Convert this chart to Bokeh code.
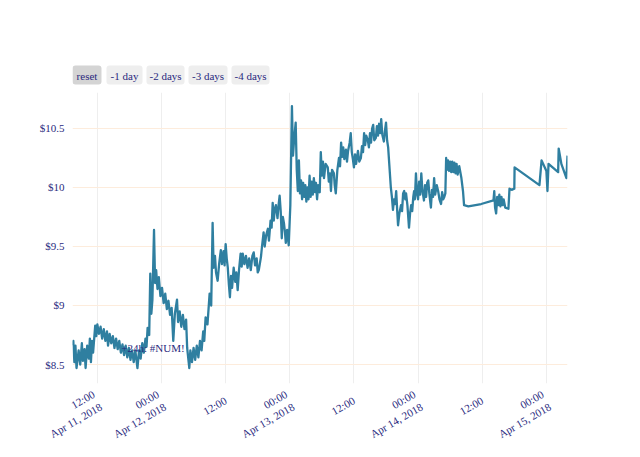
import math
import pandas as pd
from bokeh.plotting import figure
from bokeh.layouts import column
from bokeh.models import ColumnDataSource, FixedTicker, Label, Range1d, BoxAnnotation
from bokeh.core.properties import value
from bokeh.embed import file_html
from bokeh.resources import INLINE

# ---------------- data ----------------
start = "2018-04-11 00:00"

hours = [
    7.35, 7.5, 7.7, 7.9, 8.1, 8.5, 8.8, 9.1, 9.3, 9.6, 9.8, 10.1, 10.4, 10.6, 10.8, 11.0, 11.2, 11.6,
    11.8, 12.0, 12.3, 12.6, 12.9, 13.2, 13.5, 13.8, 14.0, 14.3, 14.6, 14.9, 15.2, 15.5, 15.8, 16.1,
    16.4, 16.7, 17.0, 17.3, 17.6, 17.9, 18.2, 18.5, 18.8, 19.1, 19.5, 19.8, 20.1, 20.4, 20.7, 21.0,
    21.2, 21.4, 21.7,
    21.9, 22.1, 22.3, 22.6, 22.8, 23.0, 23.25, 23.5, 23.8, 24.1, 24.4, 24.7, 25.0, 25.3, 25.6, 25.9,
    26.2, 26.5, 26.9, 27.1, 27.4, 27.7, 28.0, 28.3, 28.6, 28.8, 29.2, 29.4, 29.7, 30.0, 30.3, 30.6,
    30.9, 31.2, 31.5, 31.8, 32.0, 32.25, 32.6,
    33.0, 33.3, 33.56, 33.75, 34.0, 34.2, 34.5, 34.8, 35.1, 35.3, 35.6, 35.8, 36.0, 36.2, 36.4, 36.6,
    36.8, 37.0, 37.2, 37.5, 37.8, 38.0, 38.25, 38.5, 38.8, 39.0, 39.2, 39.5, 39.8, 40.1, 40.4, 40.7,
    41.0, 41.25, 41.5, 41.8, 42.0, 42.2, 42.6, 42.8, 43.1, 43.3, 43.6, 43.9, 44.1, 44.4, 44.6, 44.8,
    45.0, 45.2, 45.4, 45.7, 45.9, 46.1, 46.3, 46.5, 46.7, 46.9, 47.1, 47.25, 47.5, 47.8, 48.1, 48.4,
    48.6, 48.8, 49.1, 49.3, 49.5, 49.7, 49.9,
    50.1, 50.3, 50.5, 50.7, 50.9, 51.1, 51.3, 51.5, 51.7, 51.9, 52.1, 52.3, 52.5, 52.7, 52.9, 53.1,
    53.3, 53.6, 53.8, 54.0, 54.2, 54.4, 54.7, 55.1, 55.3, 55.5, 55.7, 55.9, 56.25, 56.4, 56.6, 56.9,
    57.2, 57.4, 57.6, 57.8, 58.0, 58.2, 58.5, 58.7, 58.9, 59.2, 59.4, 59.6, 59.8, 60.0, 60.2, 60.4,
    60.75, 61.0, 61.3, 61.5, 61.7, 61.9, 62.1, 62.3, 62.6, 62.8, 63.0, 63.2, 63.4, 63.6, 63.8, 64.1,
    64.3, 64.5, 64.7, 64.9, 65.1, 65.3, 65.6, 65.8, 66.0, 66.2, 66.4,
    66.9, 67.1, 67.3, 67.5, 67.7, 67.9, 68.1, 68.25, 68.5, 68.8, 69.0, 69.2, 69.4, 69.6, 69.75, 70.0,
    70.3, 70.5, 70.7, 70.9, 71.1, 71.25, 71.4, 71.6, 71.8, 72.0, 72.2, 72.4, 72.6, 72.8, 73.1, 73.3,
    73.5, 73.7, 73.9, 74.1, 74.4, 74.6, 74.8, 75.0, 75.2, 75.5, 75.75, 76.0, 76.3, 76.5, 76.7, 76.9,
    77.1, 77.25, 77.4, 77.6, 77.8, 78.0, 78.2, 78.4, 78.6, 78.8, 79.0, 79.2, 79.4, 79.7, 80.1, 80.4,
    80.6,
    81.4, 83.8, 86.1, 86.25, 86.4, 86.6, 86.8, 87.0, 87.2, 87.4, 87.6, 87.8, 88.0, 88.3, 88.9, 89.1,
    89.5, 90.0, 90.05, 94.7, 95.1, 96.0, 96.2, 96.4, 98.2, 98.3, 98.8, 99.75, 99.95,
]

price = [
    8.66, 8.70, 8.52, 8.66, 8.47, 8.62, 8.50, 8.68, 8.53, 8.63, 8.47, 8.66, 8.55, 8.72, 8.52, 8.70, 8.60, 8.83,
    8.74, 8.84, 8.76, 8.82, 8.72, 8.80, 8.70, 8.78, 8.66, 8.76, 8.68, 8.74, 8.64, 8.72, 8.63, 8.70,
    8.60, 8.67, 8.58, 8.66, 8.56, 8.64, 8.54, 8.62, 8.52, 8.62, 8.47, 8.62, 8.55, 8.68, 8.60, 8.72,
    8.65, 8.81, 8.75,
    9.27, 8.93, 9.05, 9.64, 9.19, 9.30, 9.14, 9.24, 9.08, 9.15, 9.02, 9.10, 8.97, 9.04, 8.92, 8.98,
    8.70, 8.93, 9.05, 8.86, 8.95, 8.82, 8.92, 8.80, 8.88, 8.64, 8.47, 8.62, 8.52, 8.64, 8.54, 8.66,
    8.56, 8.70, 8.62, 8.78, 8.70, 8.90, 8.84,
    9.10, 9.00, 9.70, 9.32, 9.42, 9.28, 9.21, 9.36, 9.47, 9.35, 9.46, 9.34, 9.52, 9.40, 9.32, 9.18,
    9.07, 9.25, 9.15, 9.32, 9.20, 9.28, 9.13, 9.30, 9.44, 9.33, 9.44, 9.35, 9.42, 9.32, 9.40, 9.30,
    9.42, 9.45, 9.34, 9.40, 9.28, 9.30, 9.41, 9.50, 9.62, 9.50, 9.60, 9.65, 9.55, 9.72, 9.66, 9.87,
    9.72, 9.82, 9.85, 9.74, 9.85, 9.93, 9.80, 9.57, 9.75, 9.70, 9.62, 9.53, 9.64, 9.51, 9.85, 10.69,
    10.27, 10.40, 10.55, 10.15, 9.97, 10.23, 9.95,
    10.06, 9.90, 10.04, 9.92, 10.02, 9.88, 10.00, 9.90, 10.10, 9.92, 10.05, 9.94, 10.08, 9.96, 10.04, 9.90,
    10.02, 9.96, 10.30, 10.10, 10.22, 10.08, 10.20, 10.17, 10.05, 10.12, 9.97, 10.15, 10.12, 10.02, 9.95, 10.15,
    10.25, 10.18, 10.38, 10.26, 10.34, 10.24, 10.32, 10.22, 10.31, 10.38, 10.46, 10.30, 10.24, 10.17, 10.28, 10.20,
    10.31, 10.22, 10.25, 10.35, 10.30, 10.46, 10.36, 10.44, 10.40, 10.34, 10.46, 10.38, 10.50, 10.53, 10.40, 10.42,
    10.52, 10.44, 10.54, 10.46, 10.58, 10.45, 10.39, 10.48, 10.55, 10.40, 10.34,
    10.00, 9.92, 9.81, 9.90, 9.86, 9.97, 9.80, 9.68, 9.78, 9.85, 9.80, 9.95, 9.97, 9.90, 9.95, 9.85,
    9.66, 9.78, 9.85, 9.80, 9.92, 9.97, 9.90, 10.12, 9.95, 9.90, 10.05, 9.94, 10.12, 9.98, 9.89, 10.02,
    9.92, 10.04, 10.06, 9.95, 9.83, 9.98, 9.92, 10.08, 9.94, 10.02, 9.97, 9.90, 9.86, 9.96, 9.90, 9.92,
    9.95, 10.25, 10.15, 10.23, 10.14, 10.22, 10.13, 10.22, 10.13, 10.21, 10.12, 10.20, 10.11, 10.18, 10.08, 9.97,
    9.85,
    9.84, 9.86, 9.89, 9.97, 9.83, 9.78, 9.92, 9.85, 9.94, 9.84, 9.92, 9.85, 9.90, 9.83, 9.82, 9.99,
    9.98, 9.99, 10.17, 10.02, 10.23, 10.14, 9.97, 10.20, 10.13, 10.33, 10.20, 10.08, 10.27,
]

tick_hours = [12, 24, 36, 48, 60, 72, 84, 96]
tick_labels = [
    "12:00\nApr 11, 2018", "00:00\nApr 12, 2018", "12:00", "00:00\nApr 13, 2018",
    "12:00", "00:00\nApr 14, 2018", "12:00", "00:00\nApr 15, 2018",
]
y_ticks = [8.5, 9.0, 9.5, 10.0, 10.5]
y_tick_labels = ["$8.5", "$9", "$9.5", "$10", "$10.5"]

buttons = ["reset", "-1 day", "-2 days", "-3 days", "-4 days"]
active_button = "reset"

note_hour = 22.4
note_price = 8.636
note_text = "+24h: #NUM!"

# ---------------- styling / layout ----------------
FONT = "Liberation Serif"
INK = "#2a2a7e"
LINE = "#2f7fa0"
W = 624
TOP_H = 92          # strip holding the range-selector buttons
FRAME_L, FRAME_R = 72, 567
FRAME_H = 291

btn_left = [72, 106, 146, 188, 231]
btn_right = [101, 142, 184, 227, 269]
btn_top, btn_bottom = 65, 84

base = pd.Timestamp(start)


def ms(h):
    return (base + pd.Timedelta(hours=h)).value / 1e6


# ---------------- button strip (frame aligned with the chart frame) ----------------
top = figure(
    width=W, height=TOP_H, output_backend="svg", toolbar_location=None,
    x_range=Range1d(FRAME_L, FRAME_R), y_range=Range1d(TOP_H, 0),
    x_axis_location=None, y_axis_location=None,
    min_border=0, min_border_left=FRAME_L, min_border_right=W - FRAME_R,
)
top.outline_line_color = None
top.grid.visible = False
for l, r, name in zip(btn_left, btn_right, buttons):
    top.add_layout(BoxAnnotation(
        left=l, right=r, top=btn_top, bottom=btn_bottom,
        fill_color="#d4d4d4" if name == active_button else "#eeeeee", fill_alpha=1,
        line_color=None, border_radius=3, level="underlay",
    ))
btn_src = ColumnDataSource(dict(
    x=[(l + r) / 2 for l, r in zip(btn_left, btn_right)],
    y=[(btn_top + btn_bottom) / 2 + 0.5] * len(buttons),
    name=buttons,
))
top.text("x", "y", text="name", source=btn_src, text_font=value(FONT),
         text_font_size="11px", text_color=INK, text_align="center", text_baseline="middle")

# ---------------- main chart ----------------
times = base + pd.to_timedelta(hours, unit="h")
src = ColumnDataSource(dict(t=times, price=price))

p = figure(
    frame_width=FRAME_R - FRAME_L, frame_height=FRAME_H,
    x_axis_type="datetime",
    output_backend="svg", toolbar_location=None,
    min_border_left=FRAME_L, min_border_right=W - FRAME_R, min_border_top=0, min_border_bottom=40,
    x_range=Range1d(ms(hours[0]), ms(hours[-1])),
    y_range=Range1d(8.339, 10.805),
)
p.outline_line_color = None
p.background_fill_color = "white"

p.line("t", "price", source=src, line_color=LINE, line_width=2.3, line_join="round")

p.xaxis.ticker = FixedTicker(ticks=[ms(h) for h in tick_hours])
p.xaxis.major_label_overrides = {ms(h): lab for h, lab in zip(tick_hours, tick_labels)}
p.xaxis.major_label_orientation = math.radians(30)
p.yaxis.ticker = FixedTicker(ticks=y_ticks)
p.yaxis.major_label_overrides = {v: lab for v, lab in zip(y_ticks, y_tick_labels)}

for ax in (p.xaxis, p.yaxis):
    ax.axis_line_color = None
    ax.major_tick_line_color = None
    ax.minor_tick_line_color = None
    ax.major_label_text_font = FONT
    ax.major_label_text_font_size = "11px"
    ax.major_label_text_color = INK
p.yaxis.major_label_standoff = 2
p.xaxis.major_label_standoff = 10

p.xgrid.grid_line_color = "#eeeeee"
p.ygrid.grid_line_color = "#fdecdc"

p.add_layout(Label(
    x=ms(note_hour), y=note_price, text=note_text,
    text_font=FONT, text_font_size="11px", text_color=INK,
    text_align="center", text_baseline="middle",
))

layout = column(top, p, spacing=0)
open("out.html", "w").write(file_html(layout, INLINE))
